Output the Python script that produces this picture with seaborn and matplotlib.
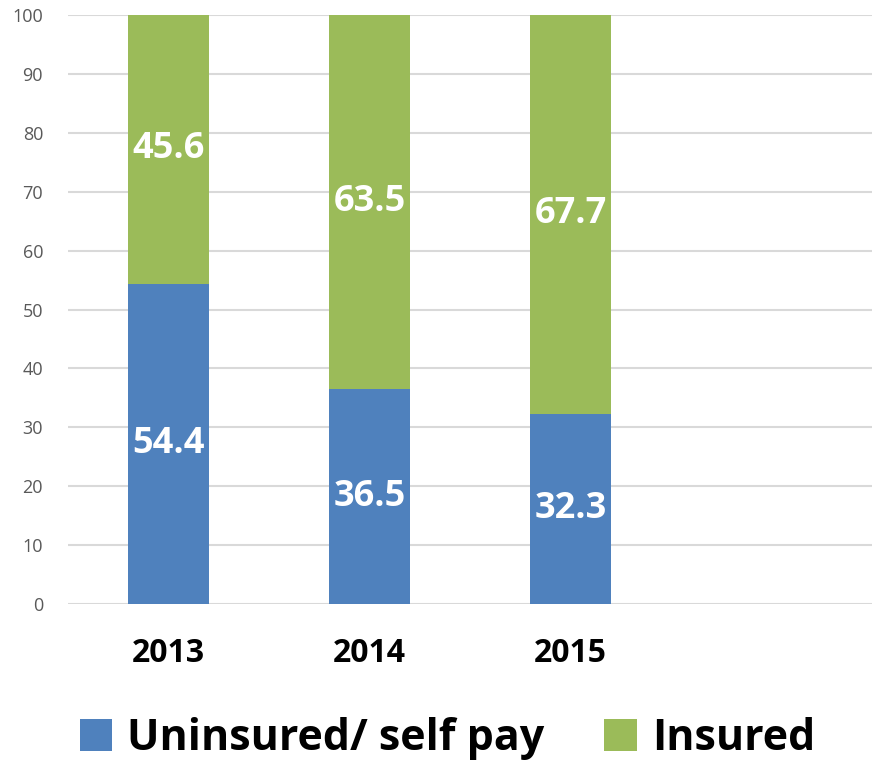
import numpy as np
import pandas as pd
import seaborn as sns
import matplotlib.pyplot as plt
from matplotlib.patches import Patch

# values (percent)
years = ['2013', '2014', '2015']
uninsured = [54.4, 36.5, 32.3]
insured = [45.6, 63.5, 67.7]
series_names = ['Uninsured/ self pay', 'Insured']
yticks = [0, 10, 20, 30, 40, 50, 60, 70, 80, 90, 100]

blue = '#4F81BD'
green = '#9BBB59'

sns.set_style('white')
plt.rcParams['font.family'] = ['Open Sans', 'DejaVu Sans']
plt.rcParams['text.color'] = 'black'

df = pd.DataFrame({'year': years, 'uninsured': uninsured, 'insured': insured})
df['total'] = df['uninsured'] + df['insured']

fig = plt.figure(figsize=(8.72, 7.66), dpi=100)
ax = fig.add_axes([0.078, 0.2115, 0.922, 0.7689])

# green drawn as full stack, blue over it
sns.barplot(data=df, x='year', y='total', color=green, width=0.4,
            saturation=1, linewidth=0, ax=ax, zorder=2)
sns.barplot(data=df, x='year', y='uninsured', color=blue, width=0.4,
            saturation=1, linewidth=0, ax=ax, zorder=3)

green_bars = ax.containers[0]
blue_bars = ax.containers[1]
# centre labels in each segment
for bar, val in zip(green_bars, df['insured']):
    top = bar.get_height()
    ax.text(bar.get_x() + bar.get_width() / 2, top - val / 2, f'{val:.1f}',
            ha='center', va='center', color='white', fontsize=26,
            fontweight='bold', zorder=4)
ax.bar_label(blue_bars, labels=[f'{v:.1f}' for v in df['uninsured']],
             label_type='center', color='white', fontsize=26, fontweight='bold')

ax.set_xlim(-0.5, 3.5)
ax.set_ylim(0, 100)
ax.set_yticks(yticks)
ax.yaxis.grid(True, color='#D9D9D9', linewidth=1.5, zorder=0)
ax.set_axisbelow(True)
for s in ax.spines.values():
    s.set_visible(False)
ax.tick_params(axis='y', length=0, labelsize=13, labelcolor='#595959', pad=18)
ax.tick_params(axis='x', length=0, labelsize=23, labelcolor='black', pad=24)
for lab in ax.get_xticklabels():
    lab.set_fontweight('bold')
ax.set_xlabel('')
ax.set_ylabel('')

handles = [Patch(facecolor=blue, edgecolor='none'), Patch(facecolor=green, edgecolor='none')]
fig.legend(handles, series_names, loc='center', bbox_to_anchor=(0.513, 0.036),
           ncol=2, frameon=False, prop={'size': 31, 'weight': 'bold'},
           labelcolor='black',
           handlelength=0.75, handleheight=0.75, handletextpad=0.35, columnspacing=1.4)

fig.savefig('out.png', dpi=100)
